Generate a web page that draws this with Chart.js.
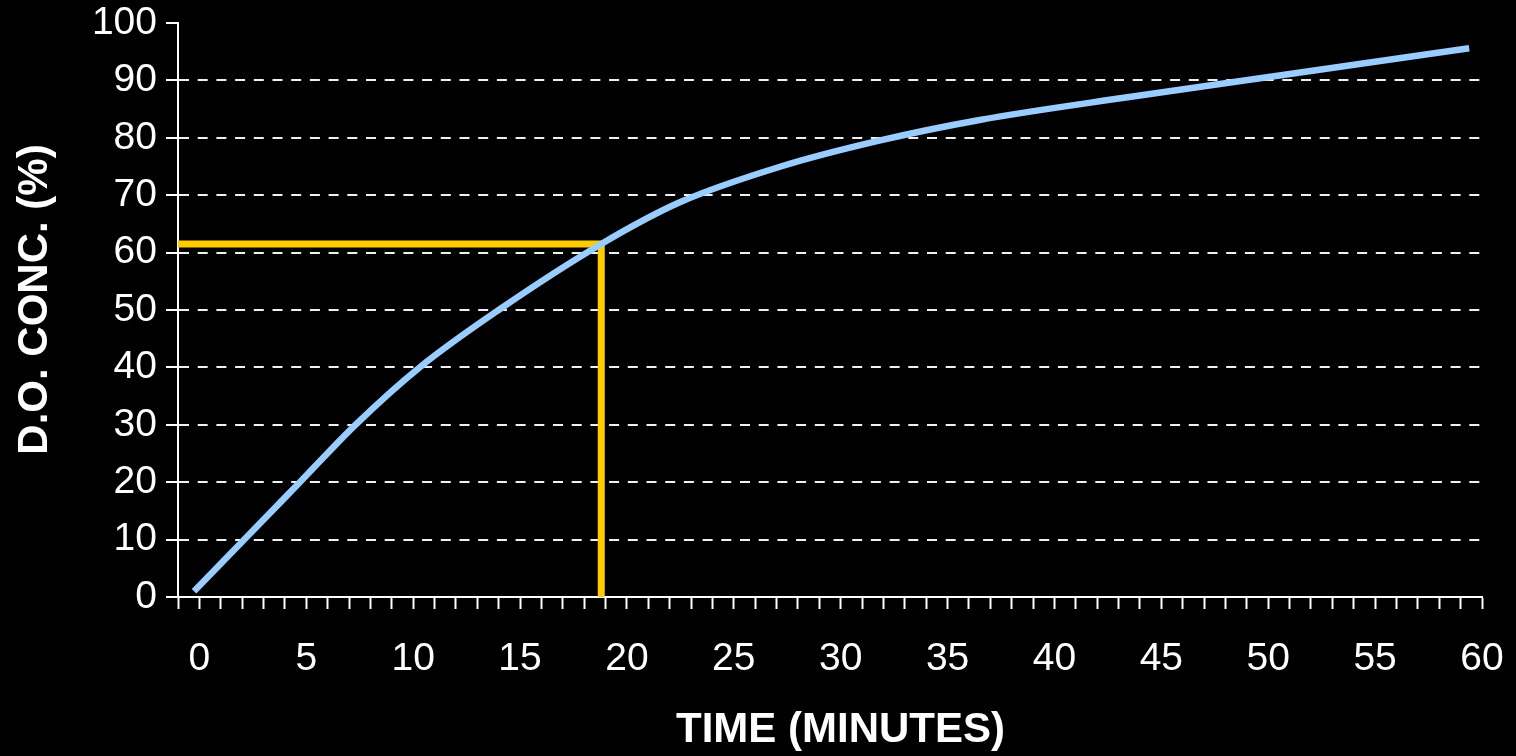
<!DOCTYPE html>
<html>
<head>
<meta charset="utf-8">
<title>D.O. concentration vs time</title>
<style>
  html, body { margin: 0; padding: 0; background: #000; }
  #wrap { width: 1516px; height: 756px; }
</style>
<script src="https://cdn.jsdelivr.net/npm/chart.js@4.4.1/dist/chart.umd.min.js"></script>
</head>
<body>
<div id="wrap"><canvas id="chart" width="1516" height="756"></canvas></div>
<script>
// curve (minutes, % D.O.)
const timeMin = [-0.25, 2.1, 4.7, 7.3, 10.3, 14.0, 18.8, 22.5, 27.2, 31.8, 36.5, 43.5, 50.6, 59.4];
const doConc  = [1, 10, 20, 30, 40, 50, 61.5, 68.8, 75.0, 79.5, 83.1, 87.1, 90.9, 95.6];

// yellow guide: 61.5 % reached at ~18.8 min
const guideX = [-1, 18.8, 18.8];
const guideY = [61.5, 61.5, 0];

const xMin = -1, xMax = 60;
const yTicks = [0, 10, 20, 30, 40, 50, 60, 70, 80, 90, 100];

const curve = timeMin.map((t, i) => ({ x: t, y: doConc[i] }));
const guide = guideX.map((t, i) => ({ x: t, y: guideY[i] }));

const tickFont = { family: 'Liberation Sans, Arial, sans-serif', size: 39 };
const titleFont = { family: 'Liberation Sans, Arial, sans-serif', size: 42, weight: 'bold' };

new Chart(document.getElementById('chart'), {
  type: 'line',
  data: {
    datasets: [
      {
        data: curve,
        borderColor: '#99CCFF',
        borderWidth: 6.5,
        pointRadius: 0,
        cubicInterpolationMode: 'monotone',
        borderCapStyle: 'butt'
      },
      {
        data: guide,
        borderColor: '#FFCC00',
        borderWidth: 7,
        pointRadius: 0,
        tension: 0,
        borderJoinStyle: 'miter'
      }
    ]
  },
  options: {
    responsive: false,
    animation: false,
    layout: { padding: { top: 23, right: 34, left: 0, bottom: 0 } },
    plugins: { legend: { display: false }, tooltip: { enabled: false } },
    scales: {
      x: {
        type: 'linear',
        min: xMin,
        max: xMax,
        afterBuildTicks: s => {
          s.ticks = [];
          for (let v = xMin; v <= xMax; v++) s.ticks.push({ value: v });
        },
        // fixed axis box, no extra room for the end labels
        afterFit: s => { s.height = 159; s.paddingLeft = 0; s.paddingRight = 0; },
        border: { display: true, color: '#fff', width: 2 },
        grid: { drawOnChartArea: false, drawTicks: true, tickLength: 12, tickColor: '#fff', tickWidth: 2 },
        ticks: {
          color: '#fff',
          font: tickFont,
          padding: 27,
          autoSkip: false,
          maxRotation: 0,
          callback: v => (v >= 0 && v % 5 === 0) ? String(v) : ''
        },
        title: {
          display: true,
          text: '\u2002TIME (MINUTES)',
          color: '#fff',
          font: titleFont,
          padding: { top: 0, bottom: 0 }
        }
      },
      y: {
        min: 0,
        max: 100,
        afterBuildTicks: s => { s.ticks = yTicks.map(v => ({ value: v })); },
        afterFit: s => { s.width = 178; s.paddingTop = 0; s.paddingBottom = 0; },
        border: { display: true, color: '#fff', width: 2, dash: [10, 8.7] },
        grid: {
          drawTicks: true,
          tickLength: 12,
          tickColor: '#fff',
          tickWidth: 2,
          lineWidth: 2,
          color: c => (c.tick && (c.tick.value === 0 || c.tick.value === 100)) ? 'rgba(0,0,0,0)' : '#f0f0f0'
        },
        ticks: { color: '#fff', font: tickFont, padding: 9 },
        title: {
          display: true,
          text: '\u2002D.O. CONC. (%)',
          color: '#fff',
          font: titleFont,
          padding: { top: 10, bottom: 0 }
        }
      }
    }
  }
});
</script>
</body>
</html>
